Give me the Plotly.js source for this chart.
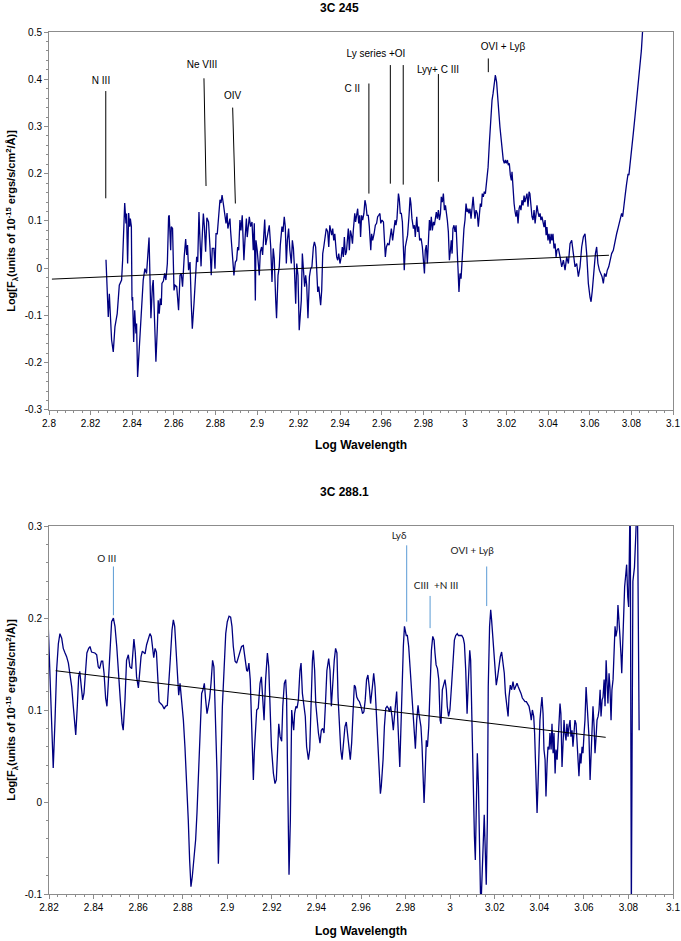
<!DOCTYPE html>
<html><head><meta charset="utf-8">
<script src="https://cdn.plot.ly/plotly-3.0.1.min.js"></script>
<style>body{margin:0;background:#fff}#chart{width:681px;height:941px}</style>
</head><body><div id="chart"></div>
<script>
// ---- 3C 245 spectrum: [log wavelength, log flux] ----
const topSpectrum = [
[2.8274,0.018],[2.8285,-0.103],[2.8290,-0.054],[2.8301,-0.152],[2.8309,-0.177],[2.8317,-0.124],[2.8328,-0.096],[2.8338,-0.036],[2.8349,-0.025],[2.8354,0.017],[2.8364,0.138],[2.8370,0.095],[2.8373,0.116],[2.8378,0.010],[2.8383,0.117],[2.8388,0.088],[2.8391,0.105],[2.8396,0.088],[2.8399,-0.068],[2.8402,-0.061],[2.8407,-0.156],[2.8412,-0.089],[2.8418,-0.138],[2.8421,-0.117],[2.8426,-0.230],[2.8434,-0.174],[2.8442,-0.117],[2.8453,-0.025],[2.8461,-0.001],[2.8469,-0.011],[2.8481,0.065],[2.8485,0.003],[2.8490,-0.106],[2.8497,-0.039],[2.8501,-0.025],[2.8508,-0.117],[2.8514,-0.198],[2.8521,-0.124],[2.8525,-0.068],[2.8530,-0.096],[2.8535,-0.064],[2.8540,-0.078],[2.8543,-0.032],[2.8550,-0.027],[2.8556,-0.011],[2.8562,-0.025],[2.8569,0.010],[2.8575,0.109],[2.8578,0.112],[2.8585,0.038],[2.8588,0.088],[2.8594,0.084],[2.8601,-0.047],[2.8606,-0.036],[2.8614,-0.039],[2.8623,-0.089],[2.8630,-0.015],[2.8636,-0.011],[2.8642,-0.039],[2.8650,0.024],[2.8657,0.062],[2.8662,0.028],[2.8666,0.049],[2.8671,-0.004],[2.8678,0.013],[2.8684,-0.075],[2.8689,-0.128],[2.8697,-0.075],[2.8703,-0.039],[2.8710,0.024],[2.8715,0.013],[2.8721,0.119],[2.8726,0.059],[2.8731,0.004],[2.8735,0.052],[2.8742,0.116],[2.8747,0.088],[2.8753,0.035],[2.8759,0.107],[2.8767,0.098],[2.8774,0.045],[2.8780,-0.015],[2.8785,0.042],[2.8793,0.042],[2.8798,-0.001],[2.8803,0.073],[2.8809,0.073],[2.8816,0.123],[2.8822,0.145],[2.8827,0.138],[2.8832,0.155],[2.8838,0.137],[2.8844,0.119],[2.8851,0.095],[2.8856,0.117],[2.8860,0.084],[2.8865,0.095],[2.8870,0.105],[2.8873,0.080],[2.8878,0.052],[2.8884,0.003],[2.8889,-0.015],[2.8896,0.013],[2.8902,0.017],[2.8907,0.045],[2.8912,0.038],[2.8918,0.102],[2.8923,0.080],[2.8929,0.112],[2.8934,0.052],[2.8937,0.017],[2.8942,0.059],[2.8949,0.105],[2.8953,0.066],[2.8958,0.098],[2.8963,0.109],[2.8969,0.088],[2.8976,0.098],[2.8982,0.038],[2.8987,0.095],[2.8992,-0.068],[2.8995,0.059],[2.9001,0.038],[2.9008,0.010],[2.9011,-0.015],[2.9016,0.035],[2.9022,0.045],[2.9027,0.028],[2.9030,0.049],[2.9037,0.103],[2.9042,0.049],[2.9046,0.059],[2.9053,0.073],[2.9059,0.091],[2.9066,0.045],[2.9072,-0.029],[2.9078,0.042],[2.9083,0.020],[2.9090,-0.068],[2.9094,-0.106],[2.9101,-0.015],[2.9107,0.003],[2.9112,0.049],[2.9120,0.088],[2.9125,0.077],[2.9131,0.109],[2.9136,0.088],[2.9141,0.010],[2.9146,0.059],[2.9152,0.084],[2.9158,0.038],[2.9165,0.010],[2.9170,0.059],[2.9175,0.042],[2.9179,0.010],[2.9186,-0.075],[2.9191,0.010],[2.9197,-0.015],[2.9203,-0.131],
[2.9213,-0.068],[2.9218,0.031],[2.9224,-0.018],[2.9229,-0.039],[2.9234,-0.015],[2.9239,-0.036],[2.9245,-0.106],[2.9252,-0.018],[2.9258,-0.001],[2.9264,0.003],[2.9271,0.045],[2.9276,0.056],[2.9282,0.045],[2.9287,0.003],[2.9292,-0.050],[2.9297,-0.039],[2.9301,-0.054],[2.9306,-0.078],[2.9311,-0.047],[2.9316,0.031],[2.9321,0.045],[2.9327,0.066],[2.9333,0.084],[2.9340,0.077],[2.9345,0.045],[2.9350,0.091],[2.9354,0.084],[2.9359,0.070],[2.9364,0.084],[2.9369,0.059],[2.9374,0.073],[2.9378,0.049],[2.9383,0.024],[2.9388,0.017],[2.9393,0.031],[2.9399,0.010],[2.9405,0.024],[2.9410,0.045],[2.9415,0.024],[2.9420,0.066],[2.9425,0.028],[2.9430,0.035],[2.9434,0.056],[2.9439,0.084],[2.9444,0.038],[2.9449,0.080],[2.9454,0.070],[2.9459,0.052],[2.9463,0.080],[2.9470,0.116],[2.9474,0.098],[2.9479,0.109],[2.9484,0.126],[2.9489,0.095],[2.9494,0.112],[2.9498,0.066],[2.9503,0.112],[2.9508,0.102],[2.9514,0.116],[2.9519,0.144],[2.9524,0.133],[2.9529,0.112],[2.9535,0.112],[2.9540,0.088],[2.9547,0.038],[2.9551,0.073],[2.9556,0.059],[2.9563,0.073],[2.9569,0.091],[2.9575,0.095],[2.9580,0.109],[2.9585,0.112],[2.9591,0.116],[2.9595,0.095],[2.9601,0.102],[2.9608,0.098],[2.9612,0.070],[2.9617,0.024],[2.9622,0.045],[2.9628,0.052],[2.9635,0.049],[2.9640,0.066],[2.9646,0.084],[2.9652,0.059],[2.9659,0.088],[2.9664,0.102],[2.9668,0.091],[2.9673,0.105],[2.9680,0.158],[2.9684,0.147],[2.9689,0.116],[2.9694,0.116],[2.9699,0.098],[2.9704,0.045],[2.9708,-0.004],[2.9713,0.045],[2.9720,0.059],[2.9724,0.070],[2.9731,0.112],[2.9736,0.150],[2.9740,0.137],[2.9745,0.105],[2.9752,0.084],[2.9757,0.091],[2.9761,0.066],[2.9768,0.109],[2.9773,0.077],[2.9777,0.088],[2.9782,0.059],[2.9789,0.063],[2.9795,0.045],[2.9800,0.010],[2.9805,-0.011],[2.9809,0.038],[2.9814,0.049],[2.9819,0.010],[2.9824,0.059],[2.9829,0.102],[2.9833,0.080],[2.9838,0.109],[2.9843,0.080],[2.9848,0.098],[2.9853,0.091],[2.9858,0.105],[2.9862,0.119],[2.9867,0.105],[2.9872,0.123],[2.9877,0.102],[2.9882,0.116],[2.9886,0.151],[2.9891,0.140],[2.9896,0.158],[2.9901,0.123],[2.9906,0.133],[2.9910,0.123],[2.9915,0.102],[2.9920,0.077],[2.9925,0.017],[2.9930,0.038],[2.9934,0.059],[2.9938,0.031],[2.9942,0.084],[2.9947,0.091],[2.9952,0.077],[2.9957,0.091],[2.9962,0.017],[2.9966,0.003],[2.9971,-0.050],[2.9976,-0.011],[2.9981,-0.022],[2.9986,0.024],[2.9990,0.066],[2.9995,0.084],[3.0000,0.102],[3.0005,0.137],[3.0010,0.119],[3.0014,0.126],[3.0019,0.116],[3.0024,0.126],[3.0029,0.105],[3.0034,0.137],[3.0039,0.151],[3.0044,0.123],[3.0048,0.105],[3.0053,0.123],[3.0059,0.116],[3.0064,0.088],[3.0069,0.123],[3.0074,0.137],[3.0079,0.130],[3.0083,0.158],[3.0088,0.151],[3.0093,0.162],[3.0098,0.158],[3.0104,0.186],[3.0111,0.214],
[3.0117,0.264],[3.0123,0.313],[3.0130,0.356],[3.0135,0.370],[3.0139,0.387],[3.0146,0.409],[3.0152,0.394],[3.0157,0.370],[3.0162,0.334],[3.0168,0.299],[3.0175,0.264],[3.0180,0.243],[3.0184,0.229],[3.0189,0.222],[3.0194,0.229],[3.0199,0.222],[3.0204,0.229],[3.0208,0.218],[3.0213,0.222],[3.0218,0.197],[3.0223,0.186],[3.0226,0.204],[3.0231,0.158],[3.0236,0.137],[3.0241,0.119],[3.0245,0.109],[3.0250,0.123],[3.0255,0.095],[3.0260,0.126],[3.0264,0.133],[3.0269,0.123],[3.0274,0.144],[3.0279,0.133],[3.0284,0.154],[3.0288,0.140],[3.0293,0.151],[3.0298,0.158],[3.0303,0.130],[3.0308,0.162],[3.0312,0.158],[3.0317,0.130],[3.0322,0.109],[3.0327,0.102],[3.0332,0.123],[3.0337,0.095],[3.0341,0.116],[3.0346,0.133],[3.0351,0.119],[3.0356,0.109],[3.0361,0.116],[3.0365,0.102],[3.0370,0.109],[3.0375,0.095],[3.0380,0.087],[3.0385,0.102],[3.0390,0.070],[3.0394,0.087],[3.0399,0.059],[3.0404,0.073],[3.0409,0.052],[3.0414,0.073],[3.0418,0.059],[3.0423,0.073],[3.0428,0.042],[3.0433,0.052],[3.0438,0.024],[3.0442,0.038],
[3.0449,0.042],[3.0457,0.024],[3.0465,0.003],[3.0473,0.017],[3.0481,-0.004],[3.0489,0.024],[3.0497,0.010],[3.0505,0.052],[3.0513,0.059],[3.0521,0.031],[3.0529,0.003],[3.0537,0.010],[3.0545,-0.018],[3.0553,0.003],[3.0561,0.045],[3.0569,0.066],[3.0577,0.073],[3.0585,0.031],[3.0593,-0.032],[3.0601,-0.061],[3.0606,-0.071],[3.0612,-0.047],[3.0620,0.003],[3.0627,0.031],[3.0633,0.045],[3.0639,0.010],[3.0646,-0.004],[3.0652,-0.011],[3.0659,-0.018],[3.0665,-0.032],[3.0671,-0.011],[3.0678,-0.018],[3.0684,-0.004],[3.0691,0.003],[3.0697,0.017],[3.0705,0.031],[3.0713,0.038],[3.0721,0.059],[3.0729,0.073],[3.0737,0.087],[3.0745,0.102],[3.0753,0.116],[3.0758,0.109],[3.0764,0.137],[3.0771,0.158],[3.0777,0.179],[3.0784,0.200],[3.0788,0.197],[3.0793,0.222],[3.0801,0.257],[3.0809,0.285],[3.0817,0.320],[3.0825,0.356],[3.0833,0.391],[3.0841,0.426],[3.0848,0.461],[3.0854,0.504],[3.0861,0.539]
];
// ---- 3C 288.1 spectrum: [log wavelength, log flux] ----
const bottomSpectrum = [
[2.8197,0.189],[2.8209,0.104],[2.8219,0.037],[2.8227,0.089],[2.8234,0.143],[2.8242,0.172],[2.8249,0.183],[2.8257,0.178],[2.8264,0.167],[2.8272,0.162],[2.8279,0.158],[2.8287,0.151],[2.8294,0.140],[2.8302,0.125],[2.8309,0.104],[2.8320,0.073],[2.8327,0.104],[2.8333,0.136],[2.8338,0.142],[2.8344,0.125],[2.8351,0.111],[2.8357,0.118],[2.8363,0.143],[2.8370,0.162],[2.8378,0.167],[2.8384,0.169],[2.8391,0.163],[2.8399,0.162],[2.8406,0.162],[2.8414,0.160],[2.8421,0.147],[2.8427,0.145],[2.8435,0.153],[2.8441,0.153],[2.8447,0.140],[2.8454,0.113],[2.8460,0.104],[2.8466,0.129],[2.8474,0.172],[2.8481,0.196],[2.8489,0.200],[2.8496,0.191],[2.8504,0.169],[2.8511,0.140],[2.8520,0.111],[2.8528,0.085],[2.8533,0.078],[2.8541,0.111],[2.8548,0.154],[2.8556,0.160],[2.8563,0.147],[2.8571,0.145],[2.8577,0.169],[2.8581,0.177],[2.8587,0.163],[2.8593,0.136],[2.8601,0.124],[2.8607,0.143],[2.8613,0.158],[2.8619,0.164],[2.8625,0.162],[2.8631,0.161],[2.8638,0.171],[2.8646,0.178],[2.8653,0.183],[2.8659,0.180],[2.8665,0.169],[2.8670,0.157],[2.8676,0.167],[2.8682,0.163],[2.8688,0.136],[2.8694,0.109],[2.8701,0.107],[2.8709,0.105],[2.8717,0.101],[2.8723,0.104],[2.8731,0.105],[2.8737,0.125],[2.8744,0.154],[2.8752,0.187],[2.8758,0.198],[2.8764,0.191],[2.8771,0.162],[2.8777,0.133],[2.8782,0.116],[2.8788,0.129],[2.8795,0.111],[2.8803,0.089],[2.8810,0.060],[2.8818,0.024],[2.8825,-0.020],[2.8831,-0.063],[2.8837,-0.092],[2.8843,-0.081],[2.8851,-0.063],[2.8858,-0.041],[2.8864,-0.012],[2.8872,0.042],[2.8879,0.096],[2.8885,0.118],[2.8891,0.122],[2.8897,0.129],[2.8903,0.111],[2.8909,0.096],[2.8915,0.104],[2.8921,0.113],[2.8927,0.129],[2.8934,0.154],[2.8940,0.147],[2.8946,0.104],[2.8954,0.031],[2.8960,-0.067],[2.8966,-0.020],[2.8972,0.046],[2.8978,0.104],[2.8985,0.147],[2.8993,0.183],[2.9000,0.196],[2.9008,0.202],[2.9015,0.201],[2.9021,0.191],[2.9027,0.169],[2.9035,0.153],[2.9042,0.151],[2.9050,0.158],[2.9057,0.163],[2.9064,0.169],[2.9072,0.170],[2.9079,0.158],[2.9087,0.143],[2.9091,0.142],[2.9097,0.151],[2.9103,0.133],[2.9111,0.060],[2.9117,0.024],[2.9121,0.053],
[2.9124,0.071],[2.9132,0.100],[2.9139,0.102],[2.9147,0.129],[2.9153,0.136],[2.9159,0.111],[2.9165,0.089],[2.9172,0.133],[2.9180,0.162],[2.9186,0.147],[2.9192,0.104],[2.9198,0.060],[2.9207,0.031],[2.9214,0.020],[2.9220,0.024],[2.9226,0.060],[2.9231,0.085],[2.9237,0.071],[2.9244,0.066],[2.9249,0.104],[2.9256,0.129],[2.9262,0.133],[2.9266,0.114],[2.9271,0.024],[2.9277,-0.079],[2.9283,-0.020],[2.9289,0.100],[2.9293,0.089],[2.9298,0.078],[2.9302,0.096],[2.9308,0.104],[2.9313,0.102],[2.9319,0.111],[2.9326,0.143],[2.9331,0.151],[2.9337,0.118],[2.9343,0.104],[2.9350,0.093],[2.9356,0.060],[2.9364,0.046],[2.9370,0.057],[2.9376,0.111],[2.9382,0.154],[2.9386,0.165],[2.9392,0.143],[2.9397,0.107],[2.9403,0.085],[2.9409,0.075],[2.9416,0.064],[2.9422,0.078],[2.9428,0.080],[2.9434,0.075],[2.9440,0.104],[2.9447,0.143],[2.9455,0.156],[2.9461,0.143],[2.9467,0.104],[2.9474,0.136],[2.9480,0.154],[2.9486,0.167],[2.9492,0.162],[2.9497,0.114],[2.9503,0.082],[2.9509,0.057],[2.9515,0.046],[2.9521,0.067],[2.9528,0.082],[2.9534,0.087],[2.9540,0.075],[2.9546,0.060],[2.9552,0.046],[2.9558,0.064],[2.9564,0.089],[2.9570,0.127],[2.9575,0.125],[2.9581,0.114],[2.9587,0.111],[2.9593,0.109],[2.9600,0.104],[2.9607,0.096],[2.9613,0.098],[2.9619,0.111],[2.9625,0.133],[2.9631,0.138],[2.9637,0.125],[2.9643,0.107],[2.9651,0.125],[2.9657,0.140],[2.9663,0.125],[2.9669,0.096],[2.9676,0.053],[2.9682,0.024],[2.9687,0.009],[2.9691,0.017],[2.9699,0.046],[2.9705,0.082],[2.9711,0.102],[2.9717,0.104],[2.9723,0.102],[2.9727,0.098],[2.9733,0.104],[2.9739,0.093],[2.9745,0.078],[2.9750,0.093],[2.9756,0.111],[2.9760,0.120],[2.9765,0.089],[2.9769,0.060],[2.9774,0.038],[2.9778,0.071],[2.9784,0.125],[2.9790,0.169],[2.9795,0.191],[2.9799,0.187],[2.9803,0.181],[2.9808,0.181],[2.9814,0.169],[2.9820,0.147],[2.9826,0.122],[2.9832,0.096],[2.9838,0.078],[2.9844,0.058],[2.9850,0.089],[2.9856,0.105],[2.9860,0.096],[2.9865,0.089],[2.9869,0.082],[2.9874,0.060],[2.9878,0.031],[2.9883,-0.001],[2.9887,0.024],[2.9893,0.067],[2.9898,0.060],[2.9904,0.082],[2.9910,0.125],[2.9916,0.165],[2.9922,0.180],[2.9928,0.176],[2.9932,0.162],[2.9937,0.149],[2.9943,0.145],[2.9949,0.133],[2.9955,0.089],[2.9959,0.085],[2.9965,0.122],[2.9971,0.129],[2.9977,0.133],[2.9983,0.122],[2.9987,0.104],[2.9993,0.093],[2.9999,0.100],[3.0007,0.129],[3.0013,0.154],[3.0019,0.176],[3.0025,0.181],[3.0032,0.183],
[3.0037,0.181],[3.0052,0.181],[3.0059,0.178],[3.0064,0.172],[3.0070,0.143],[3.0076,0.096],[3.0082,0.133],[3.0088,0.165],[3.0092,0.154],[3.0097,0.089],[3.0103,0.017],[3.0109,-0.038],[3.0113,-0.063],[3.0118,-0.005],[3.0122,0.053],[3.0127,0.017],[3.0131,-0.049],[3.0136,-0.099],[3.0140,-0.103],[3.0144,-0.074],[3.0150,-0.027],[3.0153,-0.014],[3.0158,-0.056],[3.0162,-0.090],[3.0167,-0.020],[3.0171,0.125],[3.0177,0.191],[3.0182,0.209],[3.0186,0.198],[3.0191,0.180],[3.0197,0.151],[3.0201,0.140],[3.0207,0.127],[3.0213,0.136],[3.0219,0.151],[3.0225,0.158],[3.0231,0.163],[3.0237,0.154],[3.0243,0.140],[3.0248,0.118],[3.0254,0.104],[3.0260,0.093],[3.0264,0.114],[3.0270,0.127],[3.0276,0.122],[3.0282,0.131],[3.0288,0.122],[3.0294,0.125],[3.0300,0.129],[3.0306,0.125],[3.0312,0.122],[3.0318,0.118],[3.0324,0.113],[3.0330,0.111],[3.0336,0.109],[3.0342,0.109],[3.0348,0.107],[3.0354,0.104],[3.0360,0.096],[3.0364,0.089],[3.0369,0.100],[3.0375,0.093],[3.0379,0.075],[3.0384,0.035],[3.0390,-0.012],[3.0394,0.017],[3.0399,0.071],[3.0403,0.089],[3.0408,0.104],[3.0412,0.114],[3.0417,0.096],[3.0421,0.057],[3.0426,0.046],[3.0430,0.006],[3.0435,0.042],[3.0439,0.060],[3.0444,0.057],[3.0448,0.075],[3.0453,0.057],[3.0457,0.085],[3.0462,0.053],[3.0466,0.075],[3.0471,0.031],[3.0475,0.057],[3.0480,0.046],[3.0484,0.064],[3.0489,0.082],[3.0493,0.107],[3.0497,0.096],[3.0502,0.038],[3.0506,0.060],[3.0511,0.089],[3.0515,0.075],[3.0520,0.067],[3.0524,0.085],[3.0529,0.071],[3.0533,0.082],[3.0538,0.089],[3.0542,0.071],[3.0547,0.078],[3.0551,0.060],[3.0556,0.075],[3.0560,0.089],[3.0565,0.085],[3.0569,0.067],[3.0574,0.057],[3.0578,0.028],[3.0583,0.053],[3.0587,0.042],[3.0592,0.060],[3.0596,0.053],[3.0601,0.075],[3.0605,0.089],[3.0610,0.125],[3.0614,0.111],[3.0619,0.089],[3.0623,0.071],[3.0628,0.024],[3.0632,0.057],[3.0637,0.089],[3.0641,0.104],[3.0646,0.082],[3.0650,0.053],[3.0655,0.071],[3.0659,0.089],[3.0664,0.093],[3.0668,0.100],[3.0673,0.122],[3.0677,0.093],[3.0682,0.111],[3.0686,0.114],[3.0691,0.133],[3.0695,0.104],[3.0700,0.154],[3.0704,0.136],[3.0708,0.107],[3.0713,0.140],[3.0717,0.125],[3.0722,0.089],[3.0726,0.122],[3.0731,0.133],[3.0735,0.154],[3.0740,0.191],[3.0744,0.180],[3.0749,0.187],[3.0753,0.214],[3.0758,0.198],[3.0762,0.180],[3.0767,0.158],[3.0770,0.140],[3.0774,0.169],[3.0779,0.220],[3.0783,0.234],[3.0788,0.247],[3.0792,0.258],[3.0797,0.223],[3.0801,0.212],[3.0808,0.340],[3.0813,-0.120],[3.0820,0.240],[3.0827,0.255],[3.0833,0.290],[3.0840,0.340],[3.0848,0.078]
];
// ---- power-law continuum fits ----
const topFitWave = [2.8014, 3.0692];
const topFitFlux = [-0.023, 0.0275];
const bottomFitWave = [2.8230, 3.0698];
const bottomFitFlux = [0.1427, 0.0703];
// ---- line identifications, 3C 245 ----
const topLineNames = ["N III","Ne VIII","OIV","C II","Ly series +OI","Lyγ+ C III","OVI + Lyβ"];
const topLabelWave = [2.8250, 2.8736, 2.8883, 2.9458, 2.9572, 2.9870, 3.0183];
const topLabelFlux = [0.395, 0.430, 0.363, 0.378, 0.453, 0.418, 0.468];
const topMarkWaveUpper = [2.8273, 2.8745, 2.8883, 2.9538, 2.9641, 2.9703, 2.9872, 3.0112];
const topMarkWaveLower = [2.8273, 2.8755, 2.8896, 2.9538, 2.9641, 2.9703, 2.9872, 3.0112];
const topMarkFluxUpper = [0.375, 0.402, 0.340, 0.391, 0.430, 0.430, 0.411, 0.444];
const topMarkFluxLower = [0.148, 0.174, 0.137, 0.158, 0.179, 0.177, 0.183, 0.415];
// ---- line identifications, 3C 288.1 ----
const bottomLineNames = ["O III","Lyδ","CIII  +N III","OVI + Lyβ"];
const bottomLabelWave = [2.8459, 2.9771, 2.9937, 3.0099];
const bottomLabelFlux = [0.264, 0.289, 0.234, 0.272];
const bottomMarkWave = [2.8489, 2.9805, 2.9910, 3.0164];
const bottomMarkFluxUpper = [0.256, 0.279, 0.224, 0.256];
const bottomMarkFluxLower = [0.203, 0.196, 0.189, 0.213];
// ---- axis ticks ----
const topXTicks = [2.8,2.82,2.84,2.86,2.88,2.9,2.92,2.94,2.96,2.98,3,3.02,3.04,3.06,3.08,3.1];
const topXTickText = ["2.8","2.82","2.84","2.86","2.88","2.9","2.92","2.94","2.96","2.98","3","3.02","3.04","3.06","3.08","3.1"];
const topYTicks = [-0.3,-0.2,-0.1,0,0.1,0.2,0.3,0.4,0.5];
const topYTickText = ["-0.3","-0.2","-0.1","0","0.1","0.2","0.3","0.4","0.5"];
const bottomXTicks = [2.82,2.84,2.86,2.88,2.9,2.92,2.94,2.96,2.98,3,3.02,3.04,3.06,3.08,3.1];
const bottomXTickText = ["2.82","2.84","2.86","2.88","2.9","2.92","2.94","2.96","2.98","3","3.02","3.04","3.06","3.08","3.1"];
const bottomYTicks = [-0.1,0,0.1,0.2,0.3];
const bottomYTickText = ["-0.1","0","0.1","0.2","0.3"];

const FONT = "Liberation Sans, Arial, sans-serif";
const NAVY = "#000080";

function segs(xa, xb, ya, yb) {
  const x = [], y = [];
  for (let i = 0; i < xa.length; i++) { x.push(xa[i], xb[i], null); y.push(ya[i], yb[i], null); }
  return {x, y};
}
const tm = segs(topMarkWaveUpper, topMarkWaveLower, topMarkFluxUpper, topMarkFluxLower);
const bm = segs(bottomMarkWave, bottomMarkWave, bottomMarkFluxUpper, bottomMarkFluxLower);

const traces = [
  {x: topSpectrum.map(p => p[0]), y: topSpectrum.map(p => p[1]), xaxis: "x", yaxis: "y",
   mode: "lines", line: {color: NAVY, width: 1.3}},
  {x: topFitWave, y: topFitFlux, xaxis: "x", yaxis: "y", mode: "lines", line: {color: "#000", width: 1}},
  {x: tm.x, y: tm.y, xaxis: "x", yaxis: "y", mode: "lines", line: {color: "#000", width: 1}},
  {x: topLabelWave, y: topLabelFlux, text: topLineNames, xaxis: "x", yaxis: "y", mode: "text",
   textfont: {family: FONT, size: 10, color: "#000"}, cliponaxis: false},
  {x: bottomSpectrum.map(p => p[0]), y: bottomSpectrum.map(p => p[1]), xaxis: "x2", yaxis: "y2",
   mode: "lines", line: {color: NAVY, width: 1.3}},
  {x: bottomFitWave, y: bottomFitFlux, xaxis: "x2", yaxis: "y2", mode: "lines", line: {color: "#000", width: 1}},
  {x: bm.x, y: bm.y, xaxis: "x2", yaxis: "y2", mode: "lines", line: {color: "#5b9bd5", width: 1}},
  {x: bottomLabelWave, y: bottomLabelFlux, text: bottomLineNames, xaxis: "x2", yaxis: "y2", mode: "text",
   textfont: {family: "Lato, Open Sans, sans-serif", size: 10, color: "#222"}, cliponaxis: false}
];

function xAxis(range, ticks, text, anchor, standoff) {
  return {anchor, range, tickvals: ticks, ticktext: text, showline: true, linecolor: "#8c8c8c", linewidth: 1,
    mirror: true, ticks: "outside", ticklen: 4, tickcolor: "#8c8c8c", showgrid: false, zeroline: false,
    tickfont: {family: FONT, size: 10, color: "#000"},
    minor: {ticks: "outside", ticklen: 2, tickcolor: "#8c8c8c", dtick: 0.004, showgrid: false},
    title: {text: "<b>Log Wavelength</b>", font: {family: FONT, size: 12, color: "#000"}, standoff}};
}
function yAxis(range, ticks, text, anchor, domain, minorStep) {
  return {anchor, domain, range, tickvals: ticks, ticktext: text, showline: true, linecolor: "#8c8c8c", linewidth: 1,
    mirror: true, ticks: "outside", ticklen: 4, tickcolor: "#8c8c8c", showgrid: false, zeroline: false,
    tickfont: {family: FONT, size: 10, color: "#000"},
    minor: {ticks: "outside", ticklen: 2, tickcolor: "#8c8c8c", dtick: minorStep, showgrid: false},
    title: {text: "<b>Log[F<sub>λ</sub>(units of 10<sup>-15</sup> ergs/s/cm<sup>2</sup>/Å)]</b>",
            font: {family: FONT, size: 11, color: "#000"}, standoff: 6}};
}

const layout = {
  width: 681, height: 941, showlegend: false,
  paper_bgcolor: "#fff", plot_bgcolor: "#fff",
  margin: {l: 49, r: 8, t: 32, b: 47},
  xaxis: xAxis([2.8, 3.1], topXTicks, topXTickText, "y", 12),
  yaxis: yAxis([-0.3, 0.5], topYTicks, topYTickText, "x", [0.5615, 1], 0.02),
  xaxis2: xAxis([2.82, 3.1], bottomXTicks, bottomXTickText, "y2", 14),
  yaxis2: yAxis([-0.1, 0.3], bottomYTicks, bottomYTickText, "x2", [0, 0.4269], 0.02),
  annotations: [
    {text: "<b>3C 245</b>", xref: "paper", yref: "paper", x: 0.466, y: 1.028, yanchor: "middle", showarrow: false,
     font: {family: FONT, size: 12, color: "#000"}},
    {text: "<b>3C 288.1</b>", xref: "paper", yref: "paper", x: 0.474, y: 0.4664, yanchor: "middle", showarrow: false,
     font: {family: FONT, size: 12, color: "#000"}}
  ]
};

Plotly.newPlot("chart", traces, layout, {staticPlot: true, displayModeBar: false});
</script>
</body></html>
